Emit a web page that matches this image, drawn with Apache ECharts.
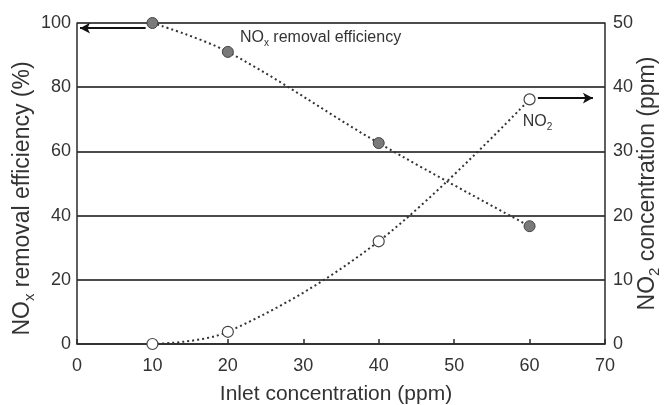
<!DOCTYPE html>
<html>
<head>
<meta charset="utf-8">
<script src="https://cdn.jsdelivr.net/npm/echarts@6/dist/echarts.min.js"></script>
<style>
  html, body { margin: 0; padding: 0; background: #fff; }
  #chart { width: 665px; height: 405px; }
</style>
</head>
<body>
<div id="chart"></div>
<script>
// Inlet concentration (ppm)
const inletPpm = [10, 20, 40, 60];
// NOx removal efficiency (%) — left axis
const noxEfficiency = [100, 91, 62.6, 36.7];
// NO2 concentration (ppm) — right axis
const no2Ppm = [0, 1.9, 16, 38.1];
// Axis ranges and tick steps
const xTicks = { min: 0, max: 70, step: 10 };
const leftTicks = { min: 0, max: 100, step: 20 };
const rightTicks = { min: 0, max: 50, step: 10 };

const FONT = 'Liberation Sans, Arial, sans-serif';
const INK = '#2b2b2b';
const TEXT = '#333';

const chart = echarts.init(document.getElementById('chart'), null, { renderer: 'canvas' });

// rich styles for titles with a subscript
function subRich(size) {
  return {
    a: { fontFamily: FONT, fontSize: size, color: TEXT, lineHeight: size + 6 },
    s: { fontFamily: FONT, fontSize: Math.round(size * 0.65), color: TEXT, verticalAlign: 'bottom',
         lineHeight: size + 6, padding: [Math.round(size * 0.45), 0, 0, 0] }
  };
}

const dotted = { color: '#333', width: 2, type: [2, 3] };

chart.setOption({
  animation: false,
  backgroundColor: '#fff',
  grid: { left: 77, right: 60, top: 23, bottom: 61, outerBoundsMode: 'none', containLabel: false },
  xAxis: {
    type: 'value',
    min: xTicks.min, max: xTicks.max, interval: xTicks.step,
    name: 'Inlet concentration (ppm)',
    nameLocation: 'middle',
    nameGap: 40,
    nameMoveOverlap: false,
    nameTextStyle: { fontFamily: FONT, fontSize: 21, color: TEXT, padding: [0, 10, 0, 0] },
    axisLine: { lineStyle: { color: INK, width: 1.5 } },
    axisTick: { inside: true, length: 5, lineStyle: { color: INK, width: 1.5 } },
    axisLabel: { fontFamily: FONT, fontSize: 18, color: TEXT, margin: 13 },
    splitLine: { show: false }
  },
  yAxis: [
    {
      type: 'value',
      min: leftTicks.min, max: leftTicks.max, interval: leftTicks.step,
      name: '{a|NO}{s|x}{a| removal efficiency (%)}',
      nameLocation: 'middle',
      nameGap: 40,
      nameMoveOverlap: false,
      nameRotate: 90,
      nameTextStyle: { rich: subRich(23), padding: [0, 30, 0, 0] },
      axisLine: { show: true, lineStyle: { color: INK, width: 1.5 } },
      axisTick: { show: false },
      axisLabel: { fontFamily: FONT, fontSize: 18, color: TEXT, margin: 6 },
      splitLine: { show: true, lineStyle: { color: '#111', width: 1.6 } }
    },
    {
      type: 'value',
      position: 'right',
      min: rightTicks.min, max: rightTicks.max, interval: rightTicks.step,
      name: '{a|NO}{s|2}{a| concentration (ppm)}',
      nameLocation: 'middle',
      nameGap: 28,
      nameMoveOverlap: false,
      nameRotate: 90,
      nameTextStyle: { rich: subRich(23) },
      axisLine: { show: true, lineStyle: { color: INK, width: 1.5 } },
      axisTick: { show: false },
      axisLabel: { fontFamily: FONT, fontSize: 18, color: TEXT, margin: 8 },
      splitLine: { show: false }
    }
  ],
  series: [
    {
      name: 'NOx removal efficiency',
      type: 'line',
      yAxisIndex: 0,
      data: inletPpm.map((x, i) => [x, noxEfficiency[i]]),
      smooth: 0.35,
      symbol: 'circle',
      symbolSize: 11,
      lineStyle: dotted,
      itemStyle: { color: '#7a7a7a', borderColor: '#444', borderWidth: 1 },
      z: 3,
      markLine: {
        silent: true,
        symbol: ['none', 'arrow'],
        symbolSize: [8, 10],
        label: { show: false },
        lineStyle: { color: '#111', width: 2, type: 'solid' },
        data: [[{ coord: [9.1, 98.4] }, { coord: [0.4, 98.4] }]]
      },
      markPoint: {
        silent: true,
        symbol: 'circle',
        symbolSize: 0,
        label: {
          show: true,
          position: 'right',
          distance: 0,
          formatter: '{a|NO}{s|x}{a| removal efficiency}',
          rich: subRich(16)
        },
        data: [{ coord: [21.6, 95.6] }]
      }
    },
    {
      name: 'NO2',
      type: 'line',
      yAxisIndex: 1,
      data: inletPpm.map((x, i) => [x, no2Ppm[i]]),
      smooth: 0.35,
      symbol: 'circle',
      symbolSize: 11,
      lineStyle: dotted,
      itemStyle: { color: '#fff', borderColor: '#444', borderWidth: 1.2 },
      z: 3,
      markLine: {
        silent: true,
        symbol: ['none', 'arrow'],
        symbolSize: [8, 10],
        label: { show: false },
        lineStyle: { color: '#111', width: 2, type: 'solid' },
        data: [[{ coord: [61.1, 38.3] }, { coord: [68.4, 38.3] }]]
      },
      markPoint: {
        silent: true,
        symbol: 'circle',
        symbolSize: 0,
        label: {
          show: true,
          position: 'right',
          distance: 0,
          formatter: '{a|NO}{s|2}',
          rich: subRich(16)
        },
        data: [{ coord: [59.1, 34.7] }]
      }
    }
  ]
});
</script>
</body>
</html>
